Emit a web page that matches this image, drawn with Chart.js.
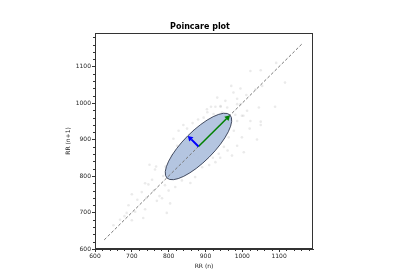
<!DOCTYPE html>
<html>
<head>
<meta charset="utf-8">
<script src="https://cdn.jsdelivr.net/npm/chart.js@4/dist/chart.umd.min.js"></script>
<style>
  html, body { margin: 0; padding: 0; background: #fff; }
  #wrap { width: 400px; height: 280px; }
</style>
</head>
<body>
<div id="wrap"><canvas id="grafico" width="400" height="280"></canvas></div>
<script>
// ---- dados ----
const rrN = [
  748,766,763,791,809,818,736,745,700,727,782,795,686,700,731,768,804,818,836,859,872,736,709,691,760,775,755,790,715,680,668,650,800,812,785,740,
  827,813,823,800,832,850,840,865,880,895,905,915,870,830,
  891,927,936,963,999,986,972,1004,977,950,940,910,960,920,1020,1040,1050,
  932,954,986,999,1011,941,1022,1050,1092,1116,1089,995,976,970,1036,1054,986,995,941,927,904,959,1045,1013,981,1003,1022,1050,986,922,945,
  860,880,900,850,870,920,940,830,890,910,860,900,940,820,950,880,870
];
const rrN1 = [
  831,826,818,826,856,844,780,777,750,756,739,699,699,679,685,732,725,770,788,781,797,709,702,720,760,745,790,775,735,690,680,665,760,795,800,740,
  924,902,883,824,806,930,940,945,955,960,975,990,925,860,
  824,838,861,906,906,883,856,865,924,880,850,830,870,850,930,900,940,
  1015,1006,997,965,1022,992,1088,1090,1110,1056,990,1040,1029,1047,1038,1047,1012,997,990,990,983,988,988,979,968,965,951,949,951,970,974,
  870,880,900,840,860,930,940,830,910,890,890,870,920,820,955,850,900
];

const ticksEixo = [600, 700, 800, 900, 1000, 1100];
const LIM_MIN = 600;
const LIM_MAX = 1192;
const PASSO_MENOR = 20;

const linhaIdent = [625, 1165];      // início/fim da diagonal tracejada
const centro = [881, 881];           // média RR(n), RR(n+1)
const SD1 = 41;
const SD2 = 121;

const FONTE = "'DejaVu Sans', sans-serif";

// ---- plugin: elipse, setas, moldura, ticks menores ----
const poincarePlugin = {
  id: 'poincare',
  beforeDatasetDraw(chart, args) {
    if (args.index !== 1) return;
    const {ctx, scales: {x, y}} = chart;
    const cx = x.getPixelForValue(centro[0]);
    const cy = y.getPixelForValue(centro[1]);
    const pxPorUn = Math.abs(x.getPixelForValue(1) - x.getPixelForValue(0));
    ctx.save();
    ctx.beginPath();
    ctx.ellipse(cx, cy, SD2 * pxPorUn, SD1 * pxPorUn, -Math.PI / 4, 0, Math.PI * 2);
    ctx.fillStyle = 'rgba(176,194,222,0.95)';
    ctx.fill();
    ctx.lineWidth = 1;
    ctx.strokeStyle = 'rgba(40,48,70,0.85)';
    ctx.stroke();
    ctx.restore();
  },
  afterDatasetsDraw(chart) {
    const {ctx, scales: {x, y}} = chart;
    const seta = (dx, dy, cor, larg) => {
      const x0 = x.getPixelForValue(centro[0]);
      const y0 = y.getPixelForValue(centro[1]);
      const x1 = x.getPixelForValue(centro[0] + dx);
      const y1 = y.getPixelForValue(centro[1] + dy);
      const ang = Math.atan2(y1 - y0, x1 - x0);
      const cab = 5, meia = 3;
      const bx = x1 - cab * Math.cos(ang), by = y1 - cab * Math.sin(ang);
      ctx.save();
      ctx.strokeStyle = cor;
      ctx.fillStyle = cor;
      ctx.lineWidth = larg;
      ctx.beginPath();
      ctx.moveTo(x0, y0);
      ctx.lineTo(bx, by);
      ctx.stroke();
      ctx.beginPath();
      ctx.moveTo(x1, y1);
      ctx.lineTo(bx + meia * Math.sin(ang), by - meia * Math.cos(ang));
      ctx.lineTo(bx - meia * Math.sin(ang), by + meia * Math.cos(ang));
      ctx.closePath();
      ctx.fill();
      ctx.restore();
    };
    const k = Math.SQRT1_2;
    seta(SD2 * k, SD2 * k, '#008000', 1.5);
    seta(-SD1 * k, SD1 * k, '#0000ff', 2);

    // moldura (4 lados)
    const a = chart.chartArea;
    ctx.save();
    ctx.strokeStyle = '#333';
    ctx.lineWidth = 1;
    ctx.strokeRect(a.left + 0.5, a.top + 0.5, a.width - 1, a.height - 1);

    // ticks menores
    ctx.beginPath();
    for (let v = LIM_MIN; v <= LIM_MAX; v += PASSO_MENOR) {
      if (ticksEixo.includes(v)) continue;
      const px = Math.round(x.getPixelForValue(v)) + 0.5;
      ctx.moveTo(px, a.bottom);
      ctx.lineTo(px, a.bottom + 2);
      const py = Math.round(y.getPixelForValue(v)) + 0.5;
      ctx.moveTo(a.left, py);
      ctx.lineTo(a.left - 2, py);
    }
    ctx.stroke();
    ctx.restore();
  }
};

const eixoBase = {
  type: 'linear',
  min: LIM_MIN,
  max: LIM_MAX,
  afterBuildTicks(s) { s.ticks = ticksEixo.map(v => ({ value: v })); },
  grid: { display: true, drawOnChartArea: false, drawTicks: true, tickLength: 3, color: '#333' },
  border: { display: true, color: '#333' },
  ticks: { padding: 1, color: '#222', font: { family: FONTE, size: 6 }, callback: v => String(v) },
};

new Chart(document.getElementById('grafico').getContext('2d'), {
  type: 'scatter',
  data: {
    datasets: [
      {
        label: 'RR',
        data: rrN.map((v, i) => ({ x: v, y: rrN1[i] })),
        backgroundColor: 'rgba(150,150,150,0.2)',
        borderWidth: 0,
        pointRadius: 1.3,
        order: 3,
      },
      {
        type: 'line',
        label: 'identidade',
        data: [{ x: linhaIdent[0], y: linhaIdent[0] }, { x: linhaIdent[1], y: linhaIdent[1] }],
        borderColor: '#777',
        borderWidth: 1,
        borderDash: [3, 2],
        pointRadius: 0,
        fill: false,
        order: 1,
      },
    ]
  },
  options: {
    responsive: false,
    animation: false,
    events: [],
    layout: { padding: 0 },
    plugins: {
      legend: { display: false },
      tooltip: { enabled: false },
      title: {
        display: true,
        text: 'Poincare plot',
        color: '#000',
        font: { family: FONTE, size: 8, weight: 'bold', lineHeight: 1.2 },
        padding: { top: 22.5, bottom: 0.9 },
      },
    },
    scales: {
      x: {
        ...eixoBase,
        title: { display: true, text: 'RR (n)', color: '#222', font: { family: FONTE, size: 6, lineHeight: 1.2 }, padding: { top: 0, bottom: 10.4 } },
        afterFit(s) { s.height = 31; },
      },
      y: {
        ...eixoBase,
        title: { display: true, text: 'RR (n+1)', color: '#222', font: { family: FONTE, size: 6, lineHeight: 1.2 }, padding: { top: 65, bottom: 0 } },
        afterFit(s) { s.width = 95; },
      },
      // margem direita vazia (espaço da figura)
      margem: {
        type: 'linear',
        position: 'right',
        display: true,
        grid: { display: false, drawTicks: false },
        border: { display: false },
        ticks: { display: false },
        afterFit(s) { s.width = 87; },
      },
    }
  },
  plugins: [poincarePlugin]
});
</script>
</body>
</html>
